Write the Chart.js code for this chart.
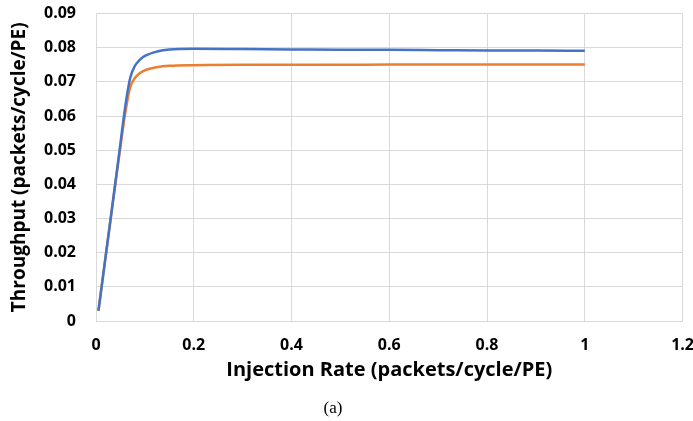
<!DOCTYPE html>
<html>
<head>
<meta charset="utf-8">
<script src="https://cdn.jsdelivr.net/npm/chart.js@4/dist/chart.umd.min.js"></script>
<style>
  body { margin: 0; background: #fff; }
  #wrap { position: relative; width: 693px; height: 421px; overflow: hidden; }
  canvas { display: block; position: absolute; left: 0; top: -16px; }
  #caption { position: absolute; left: 0; width: 666px; top: 398px; text-align: center;
    font-family: "Liberation Serif", serif; font-size: 17px; color: #000; }
</style>
</head>
<body>
<div id="wrap">
  <canvas id="myChart" width="709" height="437"></canvas>
  <div id="caption">(a)</div>
</div>
<script>
// injection rate (x) and throughput for each series
const injection = [0.005, 0.03, 0.05, 0.06, 0.07, 0.08, 0.09, 0.1, 0.125, 0.15, 0.2, 0.3, 0.4, 0.5, 0.6, 0.7, 0.8, 0.9, 1.0];
const blueThroughput = [0.003, 0.030, 0.052, 0.063, 0.0712, 0.0748, 0.0765, 0.0776, 0.0789, 0.0795, 0.0797, 0.0796, 0.0795, 0.0794, 0.0794, 0.0793, 0.0792, 0.0792, 0.0791];
const orangeThroughput = [0.003, 0.030, 0.051, 0.061, 0.0685, 0.0712, 0.0726, 0.0734, 0.0743, 0.0747, 0.0749, 0.0750, 0.0750, 0.0750, 0.0751, 0.0751, 0.0751, 0.0751, 0.0751];
const xTicks = [0, 0.2, 0.4, 0.6, 0.8, 1, 1.2];
const yTicks = [0, 0.01, 0.02, 0.03, 0.04, 0.05, 0.06, 0.07, 0.08, 0.09];

const toPoints = (ys) => injection.map((x, i) => ({ x: x, y: ys[i] }));
const tickFont = { family: 'Open Sans', weight: 'bold', size: 16 };

const ctx = document.getElementById('myChart').getContext('2d');
const chart = new Chart(ctx, {
  type: 'line',
  data: {
    datasets: [{
      label: 'Blue',
      data: toPoints(blueThroughput),
      borderColor: '#4472C4',
      borderWidth: 2.5,
      pointRadius: 0,
      cubicInterpolationMode: 'monotone',
    }, {
      label: 'Orange',
      data: toPoints(orangeThroughput),
      borderColor: '#ED7D31',
      borderWidth: 2.5,
      pointRadius: 0,
      cubicInterpolationMode: 'monotone',
    }],
  },
  options: {
    responsive: false,
    animation: false,
    layout: { padding: { top: 0, right: 0, left: 8, bottom: 36 } },
    plugins: { legend: { display: false }, tooltip: { enabled: false } },
    scales: {
      x: {
        type: 'linear',
        min: 0,
        max: 1.2,
        afterBuildTicks: (axis) => { axis.ticks = xTicks.map((v) => ({ value: v })); },
        afterFit: (axis) => { axis.height = 64; },
        ticks: {
          color: '#000',
          font: tickFont,
          padding: 15,
          maxRotation: 0,
          callback: (v) => String(Number(v.toFixed(1))),
        },
        grid: { color: '#d9d9d9', lineWidth: 1, drawTicks: false },
        border: { color: '#d9d9d9' },
        title: {
          display: true,
          text: 'Injection Rate (packets/cycle/PE)',
          color: '#000',
          font: { family: 'Open Sans', weight: 'bold', size: 20 },
          padding: { top: 2, bottom: 3 },
        },
      },
      y: {
        type: 'linear',
        min: 0,
        max: 0.09,
        afterBuildTicks: (axis) => { axis.ticks = yTicks.map((v) => ({ value: v })); },
        afterFit: (axis) => { axis.width = 88; },
        ticks: {
          color: '#000',
          font: tickFont,
          padding: 20,
          callback: (v) => (v === 0 ? '0' : v.toFixed(2)),
        },
        grid: { color: '#d9d9d9', lineWidth: 1, drawTicks: false },
        border: { color: '#d9d9d9' },
        title: {
          display: true,
          text: 'Throughput (packets/cycle/PE)',
          color: '#000',
          font: { family: 'Open Sans', weight: 'bold', size: 19 },
          padding: { top: 0, bottom: 0 },
        },
      },
    },
  },
});
</script>
</body>
</html>
